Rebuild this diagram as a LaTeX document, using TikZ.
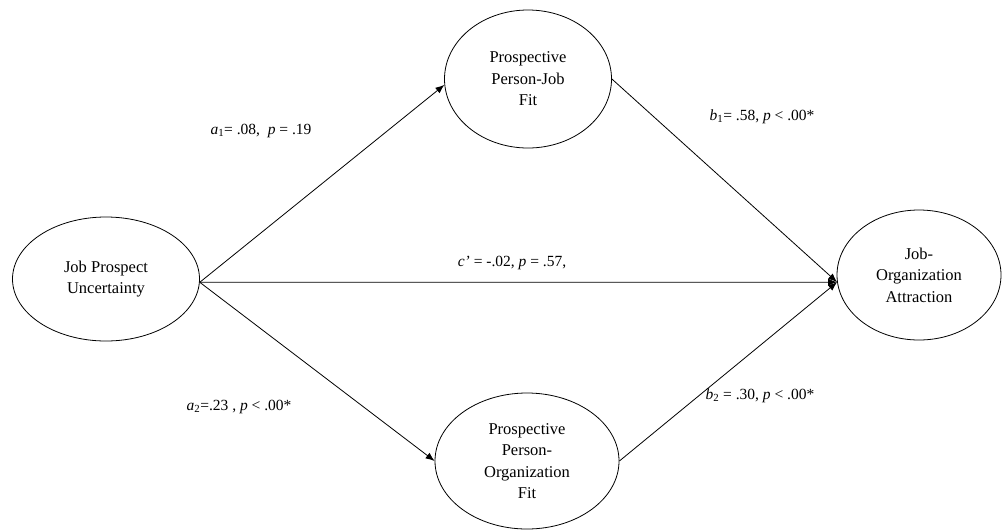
\documentclass[tikz,border=0pt]{standalone}
\usepackage{fontspec}
\setmainfont{Liberation Serif}
\usetikzlibrary{shapes.geometric,arrows.meta}
\begin{document}
\begin{tikzpicture}[x=1pt,y=-1pt,
  var/.style={draw, ellipse, inner sep=0pt, line width=0.8pt, align=center,
    font=\fontsize{16.5}{21.5}\selectfont},
  path/.style={draw, line width=0.8pt, -{Latex[length=9pt,width=7pt]}},
  lab/.style={font=\fontsize{15.5}{19}\selectfont, inner sep=0pt}]
\useasboundingbox (0,0) rectangle (1003,531);
\node[var, minimum width=187pt, minimum height=124pt] (L) at (106,279) {Job Prospect\\Uncertainty};
\node[var, minimum width=167pt, minimum height=138pt] (T) at (528,79) {Prospective\\Person-Job\\Fit};
\node[var, minimum width=184pt, minimum height=136pt] (B) at (527,461) {Prospective\\Person-\\Organization\\Fit};
\node[var, minimum width=164pt, minimum height=130pt] (R) at (919,275) {Job-\\Organization\\Attraction};
\coordinate (Rin) at (R.185);
\coordinate (Lout) at (L.358);
\draw[path] (Lout) -- (T.184);
\draw[path] (Lout) -- (B.west);
\draw[path] (Lout) -- (Rin);
\draw[path] (T.east) -- (Rin);
\draw[path] (B.east) -- (Rin);
\node[lab] (la1) at (261,131) {\textit{a}\textsubscript{1}= .08,\ \ \textit{p} = .19};
\node[lab] (lb1) at (762,117) {\textit{b}\textsubscript{1}= .58, \textit{p} < .00*};
\node[lab] (lc) at (512,263) {\textit{c’} = -.02, \textit{p} = .57,};
\node[lab] (la2) at (239,407) {\textit{a}\textsubscript{2}=.23 , \textit{p} < .00*};
\node[lab] (lb2) at (760,396) {\textit{b}\textsubscript{2} = .30, \textit{p} < .00*};
\end{tikzpicture}
\end{document}
